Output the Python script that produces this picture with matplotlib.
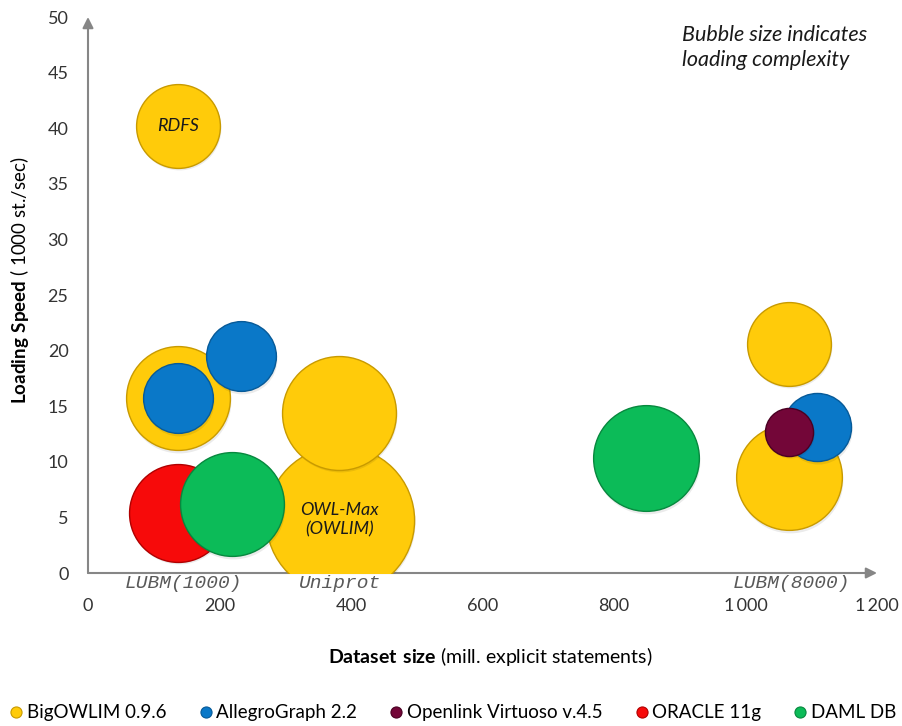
"""
Bubble chart: RDF store loading speed vs dataset size.
Bubble area = loading complexity. Writes out.png.
"""
import matplotlib.pyplot as plt
from matplotlib.lines import Line2D
from matplotlib.transforms import ScaledTranslation

plt.rcParams["font.family"] = ["Lato", "DejaVu Sans"]
plt.rcParams["mathtext.fontset"] = "custom"
plt.rcParams["mathtext.bf"] = "Lato:bold"
plt.rcParams["mathtext.rm"] = "Lato"

# ---- data ----
series_names = ["BigOWLIM 0.9.6", "AllegroGraph 2.2", "Openlink Virtuoso v.4.5",
                "ORACLE 11g", "DAML DB"]
series_colors = ["#FFCB0A", "#0A78C8", "#730638", "#F70A0A", "#0CBB58"]
series_edges = ["#C89A00", "#075A98", "#4A0022", "#B00000", "#07883E"]

owlim_x = [137, 137, 383, 382, 1066, 1066]
owlim_y = [40.2, 15.7, 4.8, 14.4, 20.6, 8.6]
owlim_size = [17.6, 27.0, 55.0, 32.5, 17.6, 28.0]

allegro_x = [137, 233, 1109]
allegro_y = [15.7, 19.5, 13.1]
allegro_size = [12.2, 12.2, 11.6]

virtuoso_x = [1066]
virtuoso_y = [12.7]
virtuoso_size = [5.8]

oracle_x = [137]
oracle_y = [5.4]
oracle_size = [24.0]

daml_x = [219, 849]
daml_y = [6.2, 10.3]
daml_size = [27.0, 28.0]

dataset_names = ["LUBM(1000)", "Uniprot", "LUBM(8000)"]
dataset_x = [145, 383, 1070]

x_ticks = [0, 200, 400, 600, 800, 1000, 1200]
x_tick_labels = ["0", "200", "400", "600", "800", "1\u2009000", "1\u2009200"]
y_ticks = [0, 5, 10, 15, 20, 25, 30, 35, 40, 45, 50]

SIZE_SCALE = 207.0  # points^2 per complexity unit

series = [
    (owlim_x, owlim_y, owlim_size),
    (allegro_x, allegro_y, allegro_size),
    (virtuoso_x, virtuoso_y, virtuoso_size),
    (oracle_x, oracle_y, oracle_size),
    (daml_x, daml_y, daml_size),
]

fig = plt.figure(figsize=(9.03, 7.26), dpi=100)
ax = fig.add_axes([88 / 903, 1 - 573 / 726, (877 - 88) / 903, (573 - 17) / 726])
ax.set_xlim(0, 1200)
ax.set_ylim(0, 50)

shadow = ax.transData + ScaledTranslation(0.8 / 72, -1.8 / 72, fig.dpi_scale_trans)
z = 3
for i, (xs, ys, ss) in enumerate(series):
    for x, y, s in zip(xs, ys, ss):
        area = s * SIZE_SCALE
        # soft shadow
        ax.scatter([x], [y], s=area, color="#000000", alpha=0.08, linewidths=0,
                   zorder=z, transform=shadow)
        ax.scatter([x], [y], s=area, color=series_colors[i],
                   edgecolors=series_edges[i], linewidths=1.0, zorder=z + 1)
        z += 2

# in-bubble labels
ax.text(owlim_x[0], owlim_y[0], "RDFS", style="italic", fontsize=13,
        ha="center", va="center", color="#1a1a1a", zorder=100)
ax.text(owlim_x[2], 4.8, "OWL-Max\n(OWLIM)", style="italic", fontsize=13,
        ha="center", va="center", color="#1a1a1a", linespacing=1.3, zorder=100)

# dataset names under the x axis
for name, x in zip(dataset_names, dataset_x):
    ax.text(x, -0.9, name, family="Liberation Mono", style="italic", fontsize=14,
            ha="center", va="center", color="#595959", clip_on=False, zorder=100)

# axes with arrow heads
for side in ["top", "right", "left", "bottom"]:
    ax.spines[side].set_visible(False)
axis_col = "#868686"
ax.annotate("", xy=(0, 1), xytext=(0, 0), xycoords="axes fraction",
            arrowprops=dict(arrowstyle="-|>", color=axis_col, lw=1.5,
                            mutation_scale=16, shrinkA=0, shrinkB=0), zorder=1)
ax.annotate("", xy=(1, 0), xytext=(0, 0), xycoords="axes fraction",
            arrowprops=dict(arrowstyle="-|>", color=axis_col, lw=1.5,
                            mutation_scale=16, shrinkA=0, shrinkB=0), zorder=1)

ax.set_xticks(x_ticks)
ax.set_xticklabels(x_tick_labels)
ax.set_yticks(y_ticks)
ax.tick_params(length=0, labelsize=13, colors="#333333")
ax.tick_params(axis="y", pad=14)
ax.tick_params(axis="x", pad=18)

fig.text(20 / 903, 1 - 280 / 726, r"$\bf{Loading\ Speed}$ ( 1000 st./sec)",
         rotation=90, ha="center", va="center", fontsize=13.5)
fig.text(490 / 903, 1 - 656 / 726, r"$\bf{Dataset\ size}$ (mill. explicit statements)",
         ha="center", va="center", fontsize=14)

fig.text(682 / 903, 1 - 25 / 726, "Bubble size indicates\nloading complexity",
         style="italic", fontsize=15.5, ha="left", va="top", linespacing=1.3,
         color="#1a1a1a")

handles = [Line2D([], [], marker="o", linestyle="", markersize=8,
                  markerfacecolor=c, markeredgecolor=e, markeredgewidth=0.8)
           for c, e in zip(series_colors, series_edges)]
fig.legend(handles, series_names, loc="center", bbox_to_anchor=(0.5, 0.018),
           ncol=5, frameon=False, fontsize=13.5, handletextpad=0.05,
           columnspacing=1.6, handlelength=1.0)

fig.savefig("out.png", dpi=100)
